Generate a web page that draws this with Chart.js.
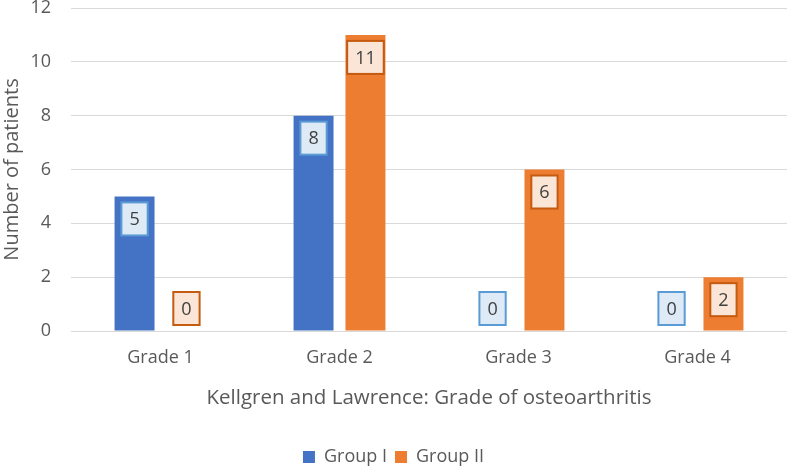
<!DOCTYPE html>
<html>
<head>
<meta charset="utf-8">
<script src="https://cdn.jsdelivr.net/npm/chart.js@4"></script>
<style>
  html, body { margin: 0; padding: 0; background: #fff; }
  #wrap { width: 787px; height: 467px; }
</style>
</head>
<body>
<div id="wrap"><canvas id="kgChart"></canvas></div>
<script>
const categories = ['Grade 1', 'Grade 2', 'Grade 3', 'Grade 4'];
const groupOne = [5, 8, 0, 0];
const groupTwo = [0, 11, 6, 2];
const yTicks = [0, 2, 4, 6, 8, 10, 12];

const FONT = "'Open Sans', sans-serif";
const TEXT = '#595959';

// boxed value labels, like the excel "data callouts"
const valueBoxes = {
    id: 'valueBoxes',
    afterDatasetsDraw(chart) {
        const ctx = chart.ctx;
        ctx.save();
        ctx.font = '18px ' + FONT;
        ctx.textAlign = 'center';
        ctx.textBaseline = 'middle';
        chart.data.datasets.forEach((ds, i) => {
            const meta = chart.getDatasetMeta(i);
            meta.data.forEach((bar, j) => {
                const text = String(ds.data[j]);
                const w = ctx.measureText(text).width + 16;
                const h = 33;
                const top = Math.min(bar.y + 6, bar.base - 6 - h);
                const left = bar.x - w / 2;
                ctx.fillStyle = ds.boxFill;
                ctx.fillRect(left, top, w, h);
                ctx.lineWidth = 2;
                ctx.strokeStyle = ds.boxBorder;
                ctx.strokeRect(left, top, w, h);
                ctx.fillStyle = '#404040';
                ctx.fillText(text, bar.x, top + h / 2 + 1);
            });
        });
        ctx.restore();
    }
};

new Chart(document.getElementById('kgChart'), {
    type: 'bar',
    data: {
        labels: categories,
        datasets: [{
            label: 'Group I',
            data: groupOne,
            backgroundColor: '#4472C4',
            boxFill: '#DEEBF7',
            boxBorder: '#5B9BD5',
            categoryPercentage: 0.58,
            barPercentage: 0.77
        }, {
            label: 'Group II',
            data: groupTwo,
            backgroundColor: '#ED7D31',
            boxFill: '#FBE5D6',
            boxBorder: '#C55A11',
            categoryPercentage: 0.58,
            barPercentage: 0.77
        }]
    },
    options: {
        responsive: true,
        maintainAspectRatio: false,
        animation: false,
        layout: { padding: { top: 8, right: 0, left: 0, bottom: -9 } },
        plugins: {
            legend: {
                position: 'bottom',
                labels: {
                    boxWidth: 12,
                    boxHeight: 12,
                    color: TEXT,
                    font: { family: FONT, size: 18 },
                    padding: 8
                }
            },
            tooltip: { enabled: false }
        },
        scales: {
            x: {
                grid: { display: false, drawTicks: false },
                border: { color: '#D9D9D9', width: 1 },
                ticks: { color: TEXT, font: { family: FONT, size: 18 }, padding: 16 },
                title: {
                    display: true,
                    text: 'Kellgren and Lawrence: Grade of osteoarthritis',
                    color: TEXT,
                    font: { family: FONT, size: 20.5 },
                    padding: { top: 10, bottom: 30 }
                },
                afterFit(scale) { scale.height = 109; }
            },
            y: {
                min: 0,
                max: 12,
                afterBuildTicks(scale) { scale.ticks = yTicks.map(v => ({ value: v })); },
                grid: { color: '#D9D9D9', drawTicks: false },
                border: { display: false },
                ticks: { color: TEXT, font: { family: FONT, size: 18 }, padding: 20 },
                title: {
                    display: true,
                    text: 'Number of patients',
                    color: TEXT,
                    font: { family: FONT, size: 20 },
                    padding: { top: 0, bottom: 0 }
                },
                afterFit(scale) {
                    scale.width = 71;
                    scale.paddingTop = 0;
                }
            }
        }
    },
    plugins: [valueBoxes]
});
</script>
</body>
</html>
